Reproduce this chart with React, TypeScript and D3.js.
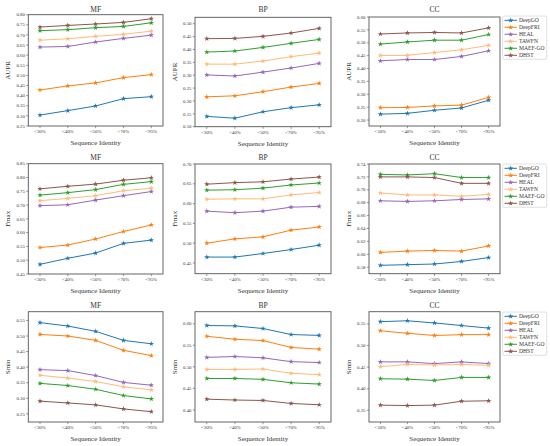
import * as d3 from "d3";

const CATEGORIES = ["<30%", "<40%", "<50%", "<70%", "<95%"];
const METHODS = ["DeepGO", "DeepFRI", "HEAL", "TAWFN", "MAEF-GO", "DHST"];
const COLORS = ["#1f77b4", "#ff7f0e", "#9467bd", "#ffbb78", "#2ca02c", "#8c564b"];

// one row per method, in METHODS order
const MF_AUPR = [
  [0.304, 0.326, 0.349, 0.385, 0.395],
  [0.428, 0.448, 0.463, 0.489, 0.504],
  [0.640, 0.643, 0.665, 0.683, 0.699],
  [0.674, 0.681, 0.693, 0.703, 0.719],
  [0.721, 0.726, 0.736, 0.742, 0.760],
  [0.739, 0.747, 0.754, 0.762, 0.780],
];
const BP_AUPR = [
  [0.140, 0.133, 0.158, 0.174, 0.185],
  [0.216, 0.220, 0.236, 0.254, 0.268],
  [0.301, 0.297, 0.312, 0.328, 0.346],
  [0.343, 0.343, 0.355, 0.372, 0.386],
  [0.390, 0.394, 0.408, 0.424, 0.439],
  [0.442, 0.443, 0.451, 0.464, 0.482],
];
const CC_AUPR = [
  [0.223, 0.226, 0.238, 0.247, 0.277],
  [0.248, 0.249, 0.255, 0.258, 0.288],
  [0.430, 0.435, 0.435, 0.447, 0.469],
  [0.451, 0.451, 0.462, 0.473, 0.490],
  [0.495, 0.503, 0.510, 0.510, 0.532],
  [0.534, 0.538, 0.540, 0.538, 0.558],
];
const MF_FMAX = [
  [0.485, 0.507, 0.526, 0.561, 0.573],
  [0.546, 0.555, 0.577, 0.604, 0.628],
  [0.698, 0.701, 0.718, 0.734, 0.749],
  [0.716, 0.724, 0.734, 0.752, 0.761],
  [0.736, 0.745, 0.756, 0.775, 0.785],
  [0.759, 0.768, 0.776, 0.790, 0.799],
];
const BP_FMAX = [
  [0.465, 0.465, 0.474, 0.484, 0.495],
  [0.500, 0.511, 0.516, 0.533, 0.541],
  [0.581, 0.577, 0.581, 0.591, 0.593],
  [0.611, 0.612, 0.612, 0.622, 0.628],
  [0.634, 0.635, 0.639, 0.647, 0.652],
  [0.649, 0.653, 0.655, 0.662, 0.667],
];
const CC_FMAX = [
  [0.583, 0.584, 0.585, 0.589, 0.595],
  [0.603, 0.605, 0.606, 0.605, 0.613],
  [0.683, 0.682, 0.683, 0.685, 0.686],
  [0.695, 0.692, 0.692, 0.690, 0.693],
  [0.724, 0.723, 0.725, 0.719, 0.719],
  [0.720, 0.720, 0.719, 0.710, 0.710],
];
const MF_SMIN = [
  [0.543, 0.532, 0.515, 0.486, 0.475],
  [0.505, 0.500, 0.486, 0.454, 0.437],
  [0.392, 0.389, 0.373, 0.351, 0.342],
  [0.374, 0.365, 0.354, 0.337, 0.327],
  [0.348, 0.341, 0.329, 0.309, 0.298],
  [0.291, 0.285, 0.279, 0.266, 0.257],
];
const BP_SMIN = [
  [0.596, 0.595, 0.589, 0.575, 0.573],
  [0.571, 0.564, 0.561, 0.545, 0.541],
  [0.522, 0.524, 0.521, 0.512, 0.510],
  [0.494, 0.494, 0.495, 0.485, 0.482],
  [0.473, 0.473, 0.471, 0.463, 0.460],
  [0.425, 0.423, 0.422, 0.415, 0.412],
];
const CC_SMIN = [
  [0.555, 0.557, 0.552, 0.546, 0.540],
  [0.534, 0.528, 0.523, 0.525, 0.525],
  [0.462, 0.462, 0.458, 0.462, 0.458],
  [0.451, 0.456, 0.455, 0.456, 0.454],
  [0.423, 0.422, 0.419, 0.426, 0.426],
  [0.362, 0.361, 0.362, 0.371, 0.372],
];

const FONT = "'Times New Roman', 'Liberation Serif', serif";
const COLS = [
  { x0: 28.3, x1: 163, title: "MF" },
  { x0: 195, x1: 331, title: "BP" },
  { x0: 369, x1: 500, title: "CC" },
];

interface Panel {
  col: number;
  top: number;
  bottom: number;
  titleY: number;
  label: string;
  domain: [number, number];
  ticks: [number, number, number];
  values: number[][];
}

const PANELS: Panel[] = [
  { col: 0, top: 14.7, bottom: 126, titleY: 12, label: "AUPR", domain: [0.25, 0.80], ticks: [0.25, 0.80, 0.05], values: MF_AUPR },
  { col: 1, top: 17.3, bottom: 126.7, titleY: 12, label: "AUPR", domain: [0.10, 0.525], ticks: [0.10, 0.50, 0.05], values: BP_AUPR },
  { col: 2, top: 17, bottom: 126, titleY: 12, label: "AUPR", domain: [0.177, 0.60], ticks: [0.20, 0.60, 0.05], values: CC_AUPR },
  { col: 0, top: 163.7, bottom: 274, titleY: 160, label: "Fmax", domain: [0.45, 0.85], ticks: [0.45, 0.85, 0.05], values: MF_FMAX },
  { col: 1, top: 164, bottom: 273.7, titleY: 160, label: "Fmax", domain: [0.423, 0.70], ticks: [0.45, 0.70, 0.05], values: BP_FMAX },
  { col: 2, top: 164, bottom: 273.7, titleY: 160, label: "Fmax", domain: [0.57, 0.74], ticks: [0.58, 0.74, 0.02], values: CC_FMAX },
  { col: 0, top: 311.7, bottom: 422, titleY: 308, label: "Smin", domain: [0.224, 0.578], ticks: [0.25, 0.55, 0.05], values: MF_SMIN },
  { col: 1, top: 311.7, bottom: 422, titleY: 308, label: "Smin", domain: [0.372, 0.628], ticks: [0.40, 0.60, 0.05], values: BP_SMIN },
  { col: 2, top: 311.7, bottom: 422, titleY: 308, label: "Smin", domain: [0.323, 0.578], ticks: [0.35, 0.55, 0.05], values: CC_SMIN },
];

const star = d3.symbol().type(d3.symbolStar).size(9)() as string;

function tickValues([a, b, s]: [number, number, number]) {
  const out: number[] = [];
  const n = Math.round((b - a) / s);
  for (let i = 0; i <= n; i++) out.push(+(a + i * s).toFixed(4));
  return out;
}

function ChartPanel({ p }: { p: Panel }) {
  const c = COLS[p.col];
  const x = d3.scaleLinear().domain([-0.42, CATEGORIES.length - 1 + 0.42]).range([c.x0, c.x1]);
  const y = d3.scaleLinear().domain(p.domain).range([p.bottom, p.top]);
  const line = d3.line<number>().x((_, i) => x(i)).y((d) => y(d));
  const mid = (c.x0 + c.x1) / 2;

  return (
    <g fontFamily={FONT} fill="#333">
      <text x={mid} y={p.titleY} fontSize={7.5} textAnchor="middle">{c.title}</text>
      {p.values.map((vals, m) => (
        <g key={m}>
          <path d={line(vals) ?? ""} fill="none" stroke={COLORS[m]} strokeWidth={1} />
          {vals.map((v, i) => (
            <path key={i} d={star} transform={`translate(${x(i)},${y(v)})`} fill={COLORS[m]} />
          ))}
        </g>
      ))}
      <rect x={c.x0} y={p.top} width={c.x1 - c.x0} height={p.bottom - p.top} fill="none" stroke="#555" strokeWidth={0.9} />
      {tickValues(p.ticks).map((t) => (
        <g key={t}>
          <line x1={c.x0 - 2.2} x2={c.x0} y1={y(t)} y2={y(t)} stroke="#555" strokeWidth={0.6} />
          <text x={c.x0 - 3.5} y={y(t)} dy="0.35em" fontSize={4.8} textAnchor="end">{t.toFixed(2)}</text>
        </g>
      ))}
      {CATEGORIES.map((cat, i) => (
        <g key={cat}>
          <line x1={x(i)} x2={x(i)} y1={p.bottom} y2={p.bottom + 2.2} stroke="#555" strokeWidth={0.6} />
          <text x={x(i)} y={p.bottom + 7.3} fontSize={4.8} textAnchor="middle">{cat}</text>
        </g>
      ))}
      <text x={mid} y={p.bottom + 19} fontSize={7} textAnchor="middle">Sequence Identity</text>
      <text
        transform={`translate(${c.x0 - 18.5},${(p.top + p.bottom) / 2}) rotate(-90)`}
        fontSize={7}
        textAnchor="middle"
      >
        {p.label}
      </text>
    </g>
  );
}

function Legend({ top }: { top: number }) {
  return (
    <g fontFamily={FONT}>
      <rect x={502.7} y={top} width={44} height={43.3} rx={1.5} fill="#fff" stroke="#ccc" strokeWidth={0.6} />
      {METHODS.map((m, i) => {
        const yy = top + 4.3 + i * 7;
        return (
          <g key={m}>
            <line x1={504.5} x2={517} y1={yy} y2={yy} stroke={COLORS[i]} strokeWidth={1} />
            <path d={star} transform={`translate(510.7,${yy})`} fill={COLORS[i]} />
            <text x={519} y={yy} dy="0.35em" fontSize={5.6} fill="#333">{m}</text>
          </g>
        );
      })}
    </g>
  );
}

export default function App() {
  return (
    <svg
      width={550}
      height={446}
      style={{ position: "absolute", left: 0, top: 0, background: "#fff" }}
    >
      {PANELS.map((p, i) => (
        <ChartPanel key={i} p={p} />
      ))}
      {[16, 164, 312].map((t) => (
        <Legend key={t} top={t} />
      ))}
    </svg>
  );
}
